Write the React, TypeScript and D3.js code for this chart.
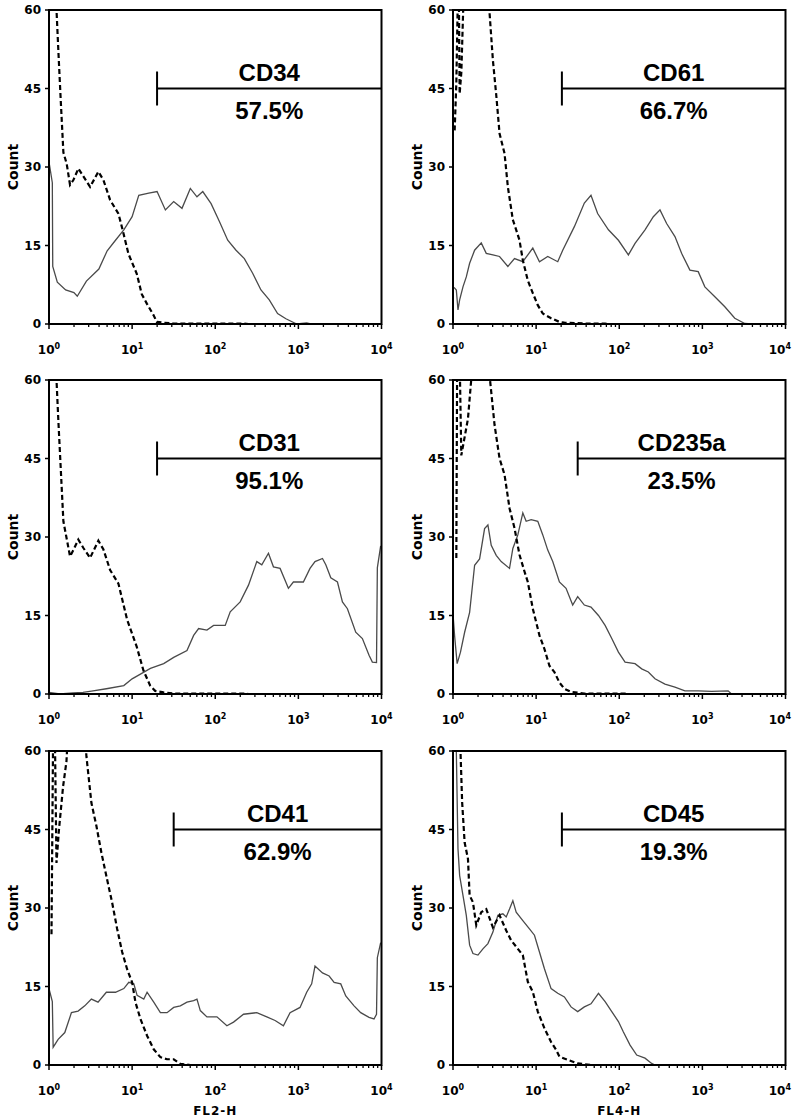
import React from 'react';
import * as d3 from 'd3';

// ---------- data (x as log10 exponent of fluorescence, y as count) ----------
const countTicks = [0, 15, 30, 45, 60];
const decadeTicks = [1, 10, 100, 1000, 10000];
const decadeExps = ['0', '1', '2', '3', '4'];
const axisTitles = ['FL2-H', 'FL4-H'];

const markers = ['CD34', 'CD61', 'CD31', 'CD235a', 'CD41', 'CD45'];
const percents = ['57.5%', '66.7%', '95.1%', '23.5%', '62.9%', '19.3%'];
const gateStartExp = [1.3, 1.31, 1.3, 1.5, 1.5, 1.31];
const gateCount = 45;

type Pt = [number, number];

const cd34Stained: Pt[] = [
  [0, 31], [0.04, 27], [0.045, 11], [0.1, 8], [0.2, 6.5], [0.3, 6], [0.34, 5.3], [0.45, 8.2], [0.6, 10.5],
  [0.7, 14], [0.8, 16], [0.9, 18], [1.0, 20.5], [1.08, 24.6], [1.2, 25], [1.3, 25.3], [1.4, 21.8], [1.5, 23.4],
  [1.6, 22.1], [1.7, 25.9], [1.78, 24.3], [1.85, 25.3], [1.95, 23], [2.05, 19.6], [2.15, 16], [2.25, 14.1],
  [2.35, 12.5], [2.45, 9.7], [2.55, 6.5], [2.65, 4.6], [2.75, 2], [2.85, 1], [2.98, 0], [3.1, 0.2], [3.15, 0],
];
const fl2IsotypeA: Pt[] = [
  [0.08, 64], [0.092, 59.4], [0.112, 52.4], [0.141, 42.8], [0.173, 32.8], [0.213, 30.6], [0.253, 26.6],
  [0.293, 27.5], [0.353, 29.7], [0.414, 28.2], [0.494, 26.2], [0.594, 29.1], [0.655, 27.5], [0.735, 23.7],
  [0.835, 21.1], [0.876, 18.6], [0.956, 13.4], [1.056, 9.6], [1.116, 5.7], [1.177, 3.9], [1.257, 1.7],
  [1.297, 0.4], [1.378, 0.25], [1.498, 0.1], [2.1, 0.1], [2.34, 0.1], [2.4, 0],
];
const cd61Stained: Pt[] = [
  [0.012, 7], [0.04, 6.5], [0.06, 2.7], [0.08, 4.6], [0.12, 7.1], [0.16, 9], [0.2, 11.6], [0.26, 14.1],
  [0.34, 15.5], [0.4, 13.5], [0.48, 13.2], [0.56, 12.9], [0.66, 11], [0.74, 12.5], [0.84, 11.9], [0.96, 14.5],
  [1.04, 11.9], [1.14, 12.9], [1.26, 11.9], [1.32, 14.1], [1.46, 18.6], [1.58, 23.1], [1.66, 24.6], [1.74, 21.1],
  [1.87, 18], [1.99, 16], [2.11, 13.2], [2.19, 15.4], [2.31, 18], [2.41, 20.5], [2.49, 21.8], [2.57, 19.2],
  [2.67, 16.7], [2.75, 13.5], [2.85, 10.3], [2.95, 10], [3.03, 7.1], [3.15, 5.2], [3.27, 3.3], [3.39, 1.1],
  [3.51, 0.1], [3.59, 0],
];
const fl4IsotypeA: Pt[] = [
  [0.02, 37], [0.04, 46], [0.06, 64], [0.07, 64], [0.08, 44], [0.1, 48], [0.13, 64], [0.42, 64],
  [0.44, 59.4], [0.48, 50.4], [0.52, 43.8], [0.56, 36.4], [0.62, 32.6], [0.66, 26.2], [0.72, 19.9], [0.76, 18],
  [0.8, 16], [0.84, 12.2], [0.9, 8.3], [0.96, 5.9], [1.02, 3.6], [1.08, 2], [1.18, 1.1], [1.28, 0.4],
  [1.34, 0.25], [1.58, 0.1], [1.83, 0.1], [1.86, 0],
];
const cd31Stained: Pt[] = [
  [0, 0.3], [0.13, 0], [0.29, 0.2], [0.41, 0.3], [0.53, 0.6], [0.69, 1], [0.9, 1.6], [1.0, 2.9], [1.1, 3.8],
  [1.22, 4.9], [1.38, 5.8], [1.5, 7], [1.66, 8.3], [1.74, 11.2], [1.8, 12.5], [1.9, 12.2], [1.98, 13.1],
  [2.12, 13.1], [2.18, 15.7], [2.3, 17.6], [2.4, 20.8], [2.5, 25.3], [2.56, 24.7], [2.64, 26.9], [2.7, 24.3],
  [2.78, 24], [2.88, 20.2], [2.94, 21.4], [3.06, 21.4], [3.14, 24], [3.2, 25.3], [3.29, 25.9], [3.33, 24.7],
  [3.39, 22.2], [3.47, 21.4], [3.53, 17.6], [3.59, 16.3], [3.69, 11.8], [3.77, 10.6], [3.85, 7.4], [3.89, 6.1],
  [3.94, 6], [3.95, 24.1], [3.99, 28.3],
];
const fl2IsotypeB: Pt[] = [
  [0.08, 64], [0.092, 59.4], [0.112, 52.4], [0.173, 33], [0.253, 26.3], [0.293, 27.5], [0.353, 29.5],
  [0.414, 27.9], [0.494, 26], [0.594, 29.3], [0.655, 27.6], [0.735, 23.7], [0.835, 21.1], [0.94, 14.2],
  [1.056, 9], [1.136, 4.5], [1.217, 1.6], [1.277, 0.6], [1.378, 0.3], [1.5, 0.1], [2.1, 0.1], [2.34, 0.1], [2.4, 0],
];
const cd235aStained: Pt[] = [
  [0, 15.3], [0.02, 11], [0.05, 5.8], [0.09, 8], [0.14, 11.8], [0.2, 15.6], [0.26, 24.6], [0.32, 25.8],
  [0.38, 31.6], [0.42, 32.3], [0.46, 28.4], [0.52, 26.5], [0.58, 25.3], [0.68, 24], [0.72, 27.8], [0.78, 30.4],
  [0.84, 34.6], [0.88, 33], [0.94, 33.3], [1.02, 33], [1.08, 30.4], [1.14, 27.5], [1.2, 25.3], [1.28, 21.4],
  [1.36, 20.2], [1.44, 17], [1.5, 18.6], [1.58, 17], [1.66, 16.6], [1.75, 15], [1.83, 13.1], [1.91, 10.6],
  [1.99, 8], [2.07, 6.1], [2.19, 5.8], [2.27, 4.8], [2.35, 4.2], [2.43, 2.9], [2.55, 1.9], [2.67, 1.3],
  [2.79, 0.6], [2.95, 0.6], [3.11, 0.5], [3.31, 0.6], [3.35, 0],
];
const fl4IsotypeB: Pt[] = [
  [0.04, 26], [0.05, 64], [0.08, 64], [0.1, 45.6], [0.18, 52.6], [0.24, 64], [0.42, 64], [0.5, 51.4],
  [0.56, 45], [0.62, 41.9], [0.68, 35.5], [0.74, 31.7], [0.8, 26.6], [0.86, 23.4], [0.9, 21.4], [0.96, 16.3],
  [1.04, 11.2], [1.1, 8.6], [1.16, 5.4], [1.22, 4.2], [1.28, 2.2], [1.34, 1], [1.42, 0.4], [1.58, 0.1],
  [1.79, 0.1], [2.07, 0.1], [2.1, 0],
];
const cd41Stained: Pt[] = [
  [0, 14.6], [0.04, 12.1], [0.05, 3.4], [0.11, 4.9], [0.19, 6.2], [0.27, 10], [0.35, 10.3], [0.43, 11.3],
  [0.51, 12.6], [0.59, 12], [0.69, 13.9], [0.8, 13.9], [0.9, 14.6], [0.96, 15.8], [1.02, 15.5], [1.06, 13.3],
  [1.14, 12.6], [1.18, 13.9], [1.26, 12], [1.34, 10], [1.42, 10], [1.5, 11], [1.58, 11.3], [1.66, 12],
  [1.74, 12.3], [1.78, 12.6], [1.82, 10.4], [1.9, 9.2], [2.02, 9.2], [2.14, 7.5], [2.22, 8.2], [2.34, 9.7],
  [2.5, 10], [2.62, 9.2], [2.72, 8.5], [2.82, 7.5], [2.9, 10], [3.02, 11], [3.1, 13.9], [3.16, 15.5],
  [3.2, 18.9], [3.29, 17.6], [3.37, 17], [3.43, 15.8], [3.51, 15.5], [3.57, 13.2], [3.67, 11.3], [3.75, 10],
  [3.85, 9.1], [3.91, 8.8], [3.94, 9.7], [3.95, 20.5], [3.99, 23.4],
];
const fl2IsotypeC: Pt[] = [
  [0.03, 25], [0.05, 64], [0.07, 64], [0.09, 38.6], [0.12, 45], [0.17, 53.3], [0.21, 58], [0.23, 64],
  [0.43, 64], [0.45, 59], [0.51, 50.1], [0.57, 45.7], [0.63, 40.6], [0.69, 36.1], [0.76, 31], [0.82, 26],
  [0.88, 21.6], [0.94, 18.3], [1.0, 15.8], [1.04, 12], [1.1, 8.8], [1.18, 5.6], [1.26, 3], [1.34, 1.5],
  [1.42, 1.1], [1.5, 1.1], [1.58, 0.2], [1.7, 0], [2.06, 0],
];
const cd45Stained: Pt[] = [
  [0.02, 64], [0.04, 60], [0.06, 41.3], [0.08, 36.2], [0.12, 32.4], [0.16, 28.6], [0.2, 22.9], [0.24, 21.3],
  [0.3, 21], [0.36, 22.2], [0.42, 23.2], [0.48, 25.4], [0.54, 28.6], [0.6, 28.9], [0.64, 28.3], [0.68, 29.8],
  [0.72, 31.4], [0.76, 29.2], [0.84, 27.6], [0.92, 26], [0.98, 24.8], [1.04, 21.6], [1.1, 18.4], [1.18, 14.6],
  [1.26, 13.7], [1.34, 13], [1.42, 11.1], [1.5, 10.2], [1.58, 11.1], [1.66, 11.7], [1.75, 13.7], [1.83, 12.1],
  [1.91, 10.2], [1.99, 8.3], [2.05, 6.3], [2.13, 3.8], [2.21, 1.9], [2.31, 1.3], [2.39, 0.3], [2.43, 0],
];
const fl4IsotypeC: Pt[] = [
  [0.085, 64], [0.09, 60], [0.11, 50.2], [0.14, 42.5], [0.18, 39.4], [0.2, 32.4], [0.24, 31.1], [0.28, 26.7],
  [0.34, 29.2], [0.4, 29.8], [0.48, 26.3], [0.56, 28.6], [0.64, 25.7], [0.7, 23.8], [0.78, 22.2], [0.84, 21],
  [0.9, 15.9], [0.96, 14], [1.02, 10.2], [1.1, 7], [1.18, 4.4], [1.24, 2.9], [1.28, 1.6], [1.38, 1],
  [1.5, 0.3], [1.66, 0], [1.99, 0],
];

const stainedSeries = [cd34Stained, cd61Stained, cd31Stained, cd235aStained, cd41Stained, cd45Stained];
const isotypeSeries = [fl2IsotypeA, fl4IsotypeA, fl2IsotypeB, fl4IsotypeB, fl2IsotypeC, fl4IsotypeC];

// ---------- layout ----------
const W = 792;
const H = 1119;
const colLeft = [49, 453];
const rowTop = [10, 380, 751];
const PW = 332.5;
const PH = 314;
const tickFont = '"DejaVu Sans", sans-serif';
const labelFont = '"Liberation Sans", Arial, sans-serif';

function Panel({ idx }: { idx: number }) {
  const col = idx % 2;
  const row = Math.floor(idx / 2);
  const left = colLeft[col];
  const top = rowTop[row];
  const x = d3.scaleLog().domain([1, 10000]).range([left, left + PW]);
  const y = d3.scaleLinear().domain([0, 60]).range([top + PH, top]);
  const line = d3
    .line<Pt>()
    .x((d) => x(Math.pow(10, d[0])))
    .y((d) => y(d[1]))
    .curve(d3.curveLinear);
  const clipId = `clip-${idx}`;
  const minor = x.ticks().filter((t) => !decadeTicks.includes(t));
  const gx = x(Math.pow(10, gateStartExp[idx]));
  const gy = y(gateCount);
  const right = left + PW;
  const mid = (gx + right) / 2;
  const bottom = top + PH;
  return (
    <g>
      <defs>
        <clipPath id={clipId}>
          <rect x={left} y={top} width={PW} height={PH} />
        </clipPath>
      </defs>
      <g clipPath={`url(#${clipId})`}>
        <path
          d={line(stainedSeries[idx]) || ''}
          fill="none"
          stroke="#4a4a4a"
          strokeWidth={1.3}
          strokeLinejoin="miter"
        />
        <path
          d={line(isotypeSeries[idx]) || ''}
          fill="none"
          stroke="#000"
          strokeWidth={2.2}
          strokeDasharray="5,3"
        />
      </g>
      <rect x={left} y={top} width={PW} height={PH} fill="none" stroke="#000" strokeWidth={2} />
      {countTicks.map((c) => (
        <g key={`y${c}`}>
          <line x1={left - 4} x2={left} y1={y(c)} y2={y(c)} stroke="#000" strokeWidth={1.5} />
          <text
            x={left - 8}
            y={y(c)}
            dy="0.36em"
            textAnchor="end"
            fontFamily={tickFont}
            fontWeight="bold"
            fontSize={12}
          >
            {c}
          </text>
        </g>
      ))}
      {minor.map((t, i) => (
        <line key={`m${i}`} x1={x(t)} x2={x(t)} y1={bottom} y2={bottom + 3} stroke="#000" strokeWidth={1.3} />
      ))}
      {decadeTicks.map((t, i) => {
        const tx = x(t);
        const nearEdge = tx + 12 > W - 1;
        return (
          <g key={`x${t}`}>
            <line x1={tx} x2={tx} y1={bottom} y2={bottom + 5} stroke="#000" strokeWidth={1.5} />
            <text
              x={nearEdge ? W - 1 : tx}
              y={bottom + 30}
              textAnchor={nearEdge ? 'end' : 'middle'}
              fontFamily={tickFont}
              fontWeight="bold"
              fontSize={12}
            >
              10
              <tspan dy={-5} fontSize={8}>
                {decadeExps[i]}
              </tspan>
            </text>
          </g>
        );
      })}
      <text
        transform={`translate(${left - 36},${y(30)}) rotate(-90)`}
        textAnchor="middle"
        dy="0.36em"
        fontFamily={tickFont}
        fontWeight="bold"
        fontSize={14}
      >
        Count
      </text>
      <line x1={gx} x2={right} y1={gy} y2={gy} stroke="#000" strokeWidth={2} />
      <line x1={gx} x2={gx} y1={gy - 17} y2={gy + 17} stroke="#000" strokeWidth={2} />
      <text
        x={mid}
        y={gy - 8}
        textAnchor="middle"
        fontFamily={labelFont}
        fontWeight="bold"
        fontSize={24}
      >
        {markers[idx]}
      </text>
      <text
        x={mid}
        y={gy + 30}
        textAnchor="middle"
        fontFamily={labelFont}
        fontWeight="bold"
        fontSize={24}
      >
        {percents[idx]}
      </text>
      {row === 2 && (
        <text
          x={left + PW / 2}
          y={bottom + 50}
          textAnchor="middle"
          fontFamily={tickFont}
          fontWeight="bold"
          fontSize={12}
          letterSpacing={1}
        >
          {axisTitles[col]}
        </text>
      )}
    </g>
  );
}

export default function App() {
  return (
    <svg
      width={W}
      height={H}
      viewBox={`0 0 ${W} ${H}`}
      style={{ position: 'absolute', left: 0, top: 0, background: '#fff' }}
    >
      <rect x={0} y={0} width={W} height={H} fill="#fff" />
      {markers.map((_, i) => (
        <Panel key={i} idx={i} />
      ))}
    </svg>
  );
}
